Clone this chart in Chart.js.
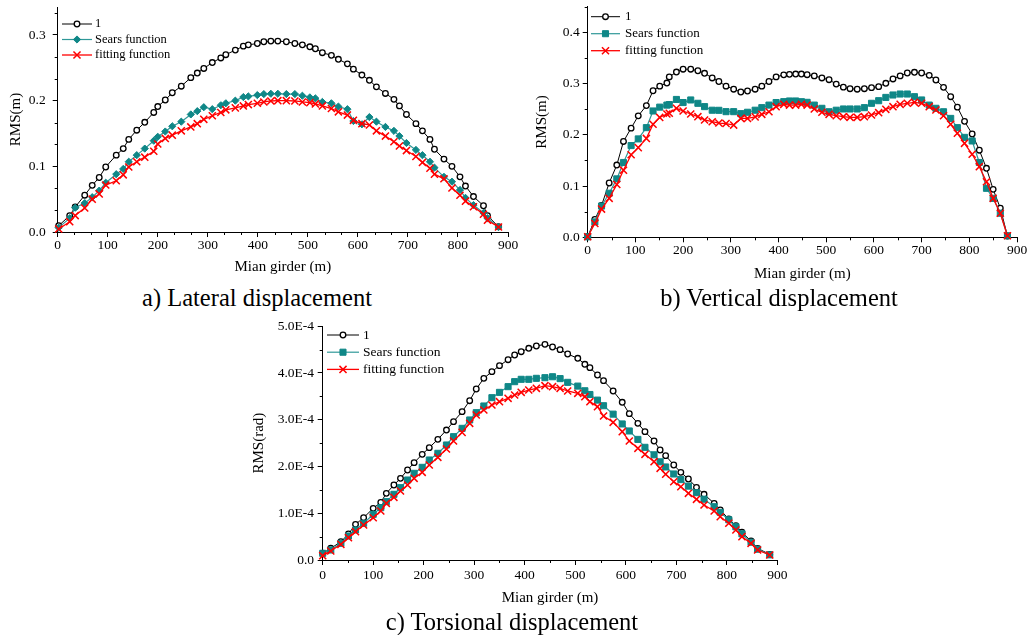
<!DOCTYPE html>
<html>
<head>
<meta charset="utf-8">
<script src="https://cdn.jsdelivr.net/npm/chart.js"></script>
<style>
  body { margin: 0; background: #fff; width: 1035px; height: 635px; position: relative; overflow: hidden; font-family: "Liberation Serif", "Times New Roman", serif; }
  canvas { position: absolute; }
  .caption { position: absolute; font-size: 24.5px; line-height: 26px; white-space: nowrap; transform: translateX(-50%); color: #000; }
</style>
</head>
<body>
<canvas id="lateral" width="530" height="282" style="left:0;top:0"></canvas>
<canvas id="vertical" width="505" height="285" style="left:530px;top:0"></canvas>
<canvas id="torsional" width="557" height="292" style="left:240px;top:318px"></canvas>
<div class="caption" style="left:257px;top:285px">a) Lateral displacement</div>
<div class="caption" style="left:779px;top:285px">b) Vertical displacement</div>
<div class="caption" style="left:512px;top:609px">c) Torsional displacement</div>
<script>
// series names
var seriesNames = ['1', 'Sears function', 'fitting function'];

// a) lateral RMS (m) along the main girder
var latX = [2, 24, 35, 54, 69, 83, 96, 117, 131, 142, 158, 174, 192, 200, 215, 229, 247, 266, 279, 292,
  309, 326, 336, 355, 371, 381, 399, 412, 426, 440, 457, 474, 489, 504, 515, 529, 547, 561, 579, 591,
  608, 623, 637, 655, 672, 683, 697, 716, 729, 744, 753, 772, 788, 804, 815, 831, 851, 859, 881];
var latOne = [0.0096, 0.025, 0.038, 0.056, 0.071, 0.083, 0.099, 0.117, 0.127, 0.141, 0.155, 0.167, 0.182, 0.191, 0.201, 0.212, 0.222, 0.235, 0.242, 0.249,
  0.258, 0.265, 0.270, 0.277, 0.283, 0.285, 0.287, 0.2897, 0.2907, 0.2907, 0.2897, 0.287, 0.285, 0.282, 0.279, 0.273, 0.269, 0.263, 0.256, 0.248,
  0.239, 0.231, 0.221, 0.211, 0.202, 0.192, 0.179, 0.165, 0.154, 0.141, 0.126, 0.111, 0.100, 0.084, 0.070, 0.054, 0.040, 0.025, 0.008];
var latSears = [0.0066, 0.021, 0.037, 0.044, 0.053, 0.063, 0.075, 0.088, 0.096, 0.107, 0.117, 0.127, 0.139, 0.145, 0.153, 0.161, 0.168, 0.179, 0.184, 0.190,
  0.187, 0.193, 0.196, 0.200, 0.2055, 0.2065, 0.2085, 0.210, 0.2105, 0.2105, 0.210, 0.210, 0.2075, 0.205, 0.2035, 0.198, 0.196, 0.191, 0.187, 0.169,
  0.164, 0.175, 0.168, 0.160, 0.154, 0.146, 0.1355, 0.125, 0.117, 0.107, 0.098, 0.084, 0.0766, 0.064, 0.052, 0.041, 0.029, 0.021, 0.0076];
var latFit = [0.0046, 0.0157, 0.025, 0.0365, 0.050, 0.058, 0.0715, 0.078, 0.087, 0.099, 0.107, 0.114, 0.123, 0.134, 0.1425, 0.1475, 0.154, 0.160, 0.165, 0.1715,
  0.177, 0.182, 0.186, 0.189, 0.192, 0.194, 0.196, 0.198, 0.1995, 0.200, 0.200, 0.1995, 0.198, 0.197, 0.195, 0.192, 0.188, 0.183, 0.178, 0.170,
  0.165, 0.163, 0.154, 0.146, 0.1375, 0.131, 0.124, 0.115, 0.106, 0.097, 0.088, 0.081, 0.067, 0.056, 0.047, 0.0385, 0.027, 0.018, 0.0076];

// b) vertical RMS (m)
var vertX = [0, 15, 29, 45, 61, 75, 91, 106, 123, 137, 151, 166, 171, 186, 200, 216, 231, 245, 261, 275,
  290, 306, 321, 335, 351, 365, 380, 395, 411, 423, 436, 448, 460, 475, 491, 506, 521, 536, 550, 565,
  580, 595, 610, 625, 640, 655, 670, 685, 700, 716, 730, 746, 761, 775, 790, 806, 821, 836, 850, 865, 880];
var vertOne = [0.001, 0.035, 0.062, 0.106, 0.141, 0.187, 0.213, 0.237, 0.257, 0.286, 0.295, 0.301, 0.313, 0.3225, 0.328, 0.328, 0.325, 0.320, 0.311, 0.304,
  0.295, 0.289, 0.2835, 0.2855, 0.289, 0.295, 0.304, 0.313, 0.317, 0.318, 0.3186, 0.3186, 0.3173, 0.315, 0.311, 0.3075, 0.299, 0.293, 0.290, 0.289,
  0.290, 0.292, 0.294, 0.3005, 0.309, 0.315, 0.3206, 0.322, 0.3206, 0.316, 0.307, 0.2926, 0.2744, 0.254, 0.2263, 0.2016, 0.170, 0.1346, 0.0936, 0.057, 0.0025];
var vertSears = [0.001, 0.03, 0.061, 0.086, 0.114, 0.146, 0.179, 0.192, 0.214, 0.2465, 0.254, 0.258, 0.259, 0.269, 0.263, 0.268, 0.2615, 0.255, 0.248, 0.2478,
  0.2452, 0.2452, 0.2413, 0.244, 0.248, 0.253, 0.258, 0.263, 0.2647, 0.266, 0.266, 0.2646, 0.2634, 0.258, 0.2517, 0.245, 0.248, 0.2504, 0.2504, 0.2504,
  0.253, 0.2615, 0.2666, 0.273, 0.2777, 0.2796, 0.2796, 0.2744, 0.268, 0.258, 0.2517, 0.245, 0.232, 0.214, 0.195, 0.188, 0.146, 0.0956, 0.076, 0.047, 0.003];
var vertFit = [0.001, 0.027, 0.055, 0.076, 0.103, 0.131, 0.161, 0.175, 0.193, 0.2205, 0.234, 0.2406, 0.242, 0.2517, 0.2465, 0.2406, 0.2354, 0.229, 0.2256, 0.223,
  0.222, 0.219, 0.232, 0.232, 0.235, 0.240, 0.245, 0.2549, 0.2595, 0.258, 0.258, 0.2595, 0.258, 0.2504, 0.244, 0.240, 0.2373, 0.2354, 0.2341, 0.2341,
  0.2354, 0.2387, 0.2432, 0.2497, 0.2549, 0.2595, 0.2615, 0.2634, 0.2615, 0.2549, 0.2484, 0.2373, 0.2205, 0.203, 0.1834, 0.162, 0.1378, 0.1085, 0.076, 0.047, 0.003];

// c) torsional RMS, in units of 1E-4 rad
var torX = [0, 16, 36, 51, 65, 81, 100, 115, 126, 141, 154, 168, 181, 197, 211, 228, 245, 259, 276, 291,
  304, 319, 335, 350, 367, 380, 393, 408, 423, 440, 455, 470, 485, 505, 519, 529, 544, 556, 575, 593,
  607, 624, 638, 656, 668, 679, 695, 709, 724, 740, 755, 775, 787, 804, 818, 830, 848, 861, 885];
var torOne = [0.143, 0.25, 0.39, 0.556, 0.763, 0.905, 1.105, 1.233, 1.426, 1.604, 1.747, 1.925, 2.082, 2.26, 2.403, 2.581, 2.78, 2.959, 3.173, 3.408,
  3.658, 3.886, 4.029, 4.157, 4.285, 4.385, 4.456, 4.528, 4.578, 4.613, 4.556, 4.499, 4.406, 4.314, 4.186, 4.114, 3.957, 3.836, 3.615, 3.373,
  3.13, 2.923, 2.745, 2.545, 2.353, 2.232, 2.032, 1.875, 1.733, 1.554, 1.405, 1.212, 1.07, 0.877, 0.734, 0.592, 0.406, 0.249, 0.12];
var torSears = [0.143, 0.214, 0.357, 0.513, 0.642, 0.785, 0.977, 1.119, 1.248, 1.405, 1.547, 1.711, 1.854, 1.982, 2.139, 2.282, 2.46, 2.638, 2.816, 2.995,
  3.151, 3.294, 3.472, 3.586, 3.708, 3.815, 3.865, 3.865, 3.886, 3.9, 3.92, 3.88, 3.80, 3.72, 3.62, 3.54, 3.42, 3.30, 3.12, 2.91,
  2.76, 2.58, 2.41, 2.25, 2.10, 1.99, 1.84, 1.72, 1.58, 1.44, 1.30, 1.14, 1.02, 0.86, 0.71, 0.56, 0.38, 0.23, 0.11];
var torFit = [0.093, 0.193, 0.335, 0.478, 0.606, 0.749, 0.905, 1.048, 1.212, 1.34, 1.476, 1.604, 1.747, 1.875, 2.032, 2.196, 2.374, 2.545, 2.73, 2.923,
  3.102, 3.209, 3.316, 3.387, 3.458, 3.529, 3.586, 3.636, 3.672, 3.729, 3.708, 3.672, 3.615, 3.565, 3.494, 3.387, 3.28, 3.08, 2.945, 2.745,
  2.545, 2.389, 2.26, 2.103, 1.961, 1.833, 1.675, 1.568, 1.426, 1.298, 1.176, 1.048, 0.926, 0.785, 0.642, 0.499, 0.357, 0.214, 0.107];

var FONT = '"Liberation Serif", "Times New Roman", serif';
var TEAL = '#0f8787';
var TEAL_LINE = '#2f9898';
var RED = '#ff0000';

Chart.defaults.font.family = FONT;
Chart.defaults.color = '#000';

function toPoints(xs, ys, k) {
  return xs.map(function (x, i) {
    return { x: x, y: ys[i] * (k || 1) };
  });
}

// draw one marker the way the datasets do
function drawMarker(ctx, style, x, y, r, bw, fill, stroke) {
  ctx.save();
  ctx.lineWidth = bw;
  ctx.strokeStyle = stroke;
  ctx.fillStyle = fill;
  ctx.beginPath();
  if (style === 'circle') {
    ctx.arc(x, y, r, 0, Math.PI * 2);
    ctx.fill();
    ctx.stroke();
  } else if (style === 'rect') {
    var s = r * Math.SQRT1_2;
    ctx.rect(x - s, y - s, 2 * s, 2 * s);
    ctx.fill();
    ctx.stroke();
  } else if (style === 'rectRot') {
    ctx.moveTo(x, y - r);
    ctx.lineTo(x + r, y);
    ctx.lineTo(x, y + r);
    ctx.lineTo(x - r, y);
    ctx.closePath();
    ctx.fill();
    ctx.stroke();
  } else {
    var d = r * Math.SQRT1_2;
    ctx.moveTo(x - d, y - d);
    ctx.lineTo(x + d, y + d);
    ctx.moveTo(x - d, y + d);
    ctx.lineTo(x + d, y - d);
    ctx.stroke();
  }
  ctx.restore();
}

// legend with a short line and the marker in its middle
var lineKey = {
  id: 'lineKey',
  afterDatasetsDraw: function (chart, args, opts) {
    var ctx = chart.ctx;
    chart.data.datasets.forEach(function (ds, i) {
      var y = opts.y + i * opts.gap;
      ctx.save();
      ctx.strokeStyle = ds.borderColor;
      ctx.lineWidth = ds.borderWidth;
      ctx.beginPath();
      ctx.moveTo(opts.x, y);
      ctx.lineTo(opts.x + opts.len, y);
      ctx.stroke();
      ctx.restore();
      drawMarker(ctx, ds.pointStyle, opts.x + opts.len / 2, y, ds.pointRadius, ds.pointBorderWidth,
        ds.pointBackgroundColor, ds.pointBorderColor);
      ctx.save();
      ctx.fillStyle = '#000';
      ctx.font = opts.size + 'px ' + FONT;
      ctx.textBaseline = 'middle';
      ctx.fillText(ds.label, opts.x + opts.len + opts.textGap, y);
      ctx.restore();
    });
  }
};

// small outward ticks between the labelled ones
var minorTicks = {
  id: 'minorTicks',
  afterDraw: function (chart, args, opts) {
    var ctx = chart.ctx;
    ctx.save();
    ctx.strokeStyle = '#000';
    ctx.lineWidth = 1;
    ['x', 'y'].forEach(function (key) {
      var scale = chart.scales[key];
      var step = opts[key];
      var major = scale.options.ticks.stepSize;
      var n = Math.round((scale.max - scale.min) / step + 1e-6);
      for (var i = 0; i <= n; i++) {
        var v = scale.min + i * step;
        var r = v / major;
        if (Math.abs(r - Math.round(r)) < 1e-6) continue;
        var p = Math.round(scale.getPixelForValue(v)) + 0.5;
        ctx.beginPath();
        if (key === 'x') {
          ctx.moveTo(p, scale.top);
          ctx.lineTo(p, scale.top + 3);
        } else {
          ctx.moveTo(scale.right, p);
          ctx.lineTo(scale.right - 3, p);
        }
        ctx.stroke();
      }
    });
    ctx.restore();
  }
};

function makeDatasets(xs, one, sears, fit, searsStyle, searsRadius, k) {
  return [{
    label: seriesNames[0],
    data: toPoints(xs, one, k),
    borderColor: '#000',
    borderWidth: 1,
    pointStyle: 'circle',
    pointRadius: 2.8,
    pointBorderWidth: 1.3,
    pointBackgroundColor: '#fff',
    pointBorderColor: '#000',
    order: 3
  }, {
    label: seriesNames[1],
    data: toPoints(xs, sears, k),
    borderColor: TEAL_LINE,
    borderWidth: 1.2,
    pointStyle: searsStyle,
    pointRadius: searsRadius,
    pointBorderWidth: 1,
    pointBackgroundColor: TEAL,
    pointBorderColor: TEAL,
    order: 2
  }, {
    label: seriesNames[2],
    data: toPoints(xs, fit, k),
    borderColor: RED,
    borderWidth: 1.3,
    pointStyle: 'crossRot',
    pointRadius: 5,
    pointBorderWidth: 1.5,
    pointBackgroundColor: RED,
    pointBorderColor: RED,
    order: 1
  }];
}

function buildChart(id, c) {
  return new Chart(document.getElementById(id), {
    type: 'line',
    data: { datasets: c.datasets.map(function (d) { d.clip = false; d.tension = 0; return d; }) },
    options: {
      responsive: false,
      animation: false,
      devicePixelRatio: 1,
      events: [],
      layout: { padding: { top: c.padTop, right: c.padRight, bottom: 0, left: 0 } },
      plugins: {
        legend: { display: false },
        tooltip: { enabled: false },
        lineKey: c.key,
        minorTicks: { x: 100 / c.xMinor, y: c.yStep / c.yMinor }
      },
      scales: {
        x: {
          type: 'linear',
          min: 0,
          max: 900,
          // fixed box so the plot area sits where it should
          afterFit: function (s) { s.height = c.xHeight; s.paddingLeft = 0; s.paddingRight = 0; },
          border: { display: true, color: '#000', width: 1 },
          grid: { drawOnChartArea: false, drawTicks: true, tickLength: 5, tickColor: '#000' },
          ticks: { stepSize: 100, autoSkip: false, maxRotation: 0, padding: c.xTickPad, font: { size: 13.5 } },
          title: { display: true, text: 'Mian girder (m)', font: { size: 15 }, padding: { top: 0, bottom: c.xTitlePad } }
        },
        y: {
          type: 'linear',
          min: 0,
          max: c.yMax,
          afterFit: function (s) { s.width = c.yWidth; s.paddingTop = 0; s.paddingBottom = 0; },
          border: { display: true, color: '#000', width: 1 },
          grid: { drawOnChartArea: false, drawTicks: true, tickLength: 5, tickColor: '#000' },
          ticks: { stepSize: c.yStep, includeBounds: false, padding: c.yTickPad, font: { size: 13.5 }, callback: c.yFormat },
          title: { display: true, text: c.yTitle, font: { size: 15 }, padding: { top: c.yTitlePad, bottom: 0 } }
        }
      }
    },
    plugins: [lineKey, minorTicks]
  });
}

function oneDecimal(v) { return v.toFixed(1); }

buildChart('lateral', {
  datasets: makeDatasets(latX, latOne, latSears, latFit, 'rectRot', 3.6),
  padTop: 7, padRight: 22, xHeight: 50, yWidth: 57.7,
  yMax: 0.3426, yStep: 0.1, yMinor: 3, xMinor: 3,
  xTickPad: 0, yTickPad: 7, xTitlePad: 6, yTitlePad: 7,
  yTitle: 'RMS(m)', yFormat: oneDecimal,
  key: { x: 62, y: 24, gap: 15.5, len: 30, textGap: 3, size: 12.5 }
});

buildChart('vertical', {
  datasets: makeDatasets(vertX, vertOne, vertSears, vertFit, 'rect', 4.3),
  padTop: 6.7, padRight: 18, xHeight: 47.7, yWidth: 57.7,
  yMax: 0.45, yStep: 0.1, yMinor: 2, xMinor: 2,
  xTickPad: 0, yTickPad: 3, xTitlePad: 2, yTitlePad: 3,
  yTitle: 'RMS(m)', yFormat: oneDecimal,
  key: { x: 61, y: 16.7, gap: 17, len: 29, textGap: 5, size: 13 }
});

buildChart('torsional', {
  datasets: makeDatasets(torX, torOne, torSears, torFit, 'rect', 4.3, 1e-4),
  padTop: 8.25, padRight: 19.7, xHeight: 50, yWidth: 82.7,
  yMax: 5e-4, yStep: 1e-4, yMinor: 2, xMinor: 2,
  xTickPad: 2.6, yTickPad: 3.7, xTitlePad: 3, yTitlePad: 10,
  yTitle: 'RMS(rad)',
  yFormat: function (v) { return v === 0 ? '0.0' : v.toExponential(1).toUpperCase(); },
  key: { x: 87, y: 17, gap: 17.2, len: 32, textGap: 4, size: 13.5 }
});
</script>
</body>
</html>
